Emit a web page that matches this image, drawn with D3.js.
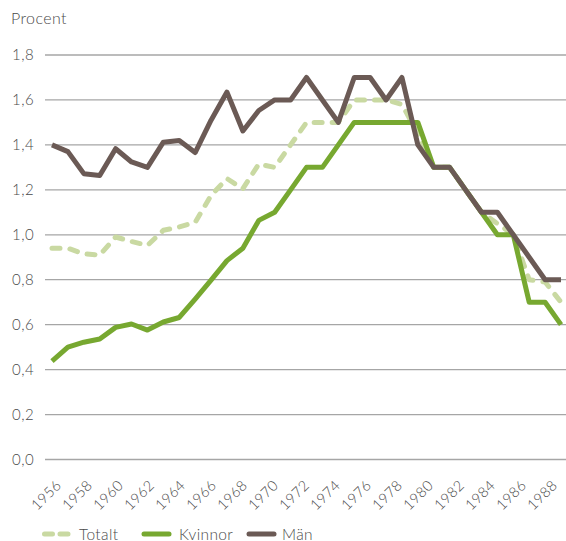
<!DOCTYPE html>
<html>
<head>
<meta charset="utf-8">
<script src="https://cdn.jsdelivr.net/npm/d3@7"></script>
<style>
  body { margin: 0; background: #fff; }
  svg text { font-family: Lato, "Open Sans", sans-serif; font-weight: 300; fill: #4a4a4a; letter-spacing: 0.4px; }
</style>
</head>
<body>
<div id="app"></div>
<script>
const years = d3.range(1956, 1989);
const labelYears = years.filter(d => d % 2 === 0);
const yTicks = [0, 0.2, 0.4, 0.6, 0.8, 1.0, 1.2, 1.4, 1.6, 1.8];

const totalt = [0.94, 0.94, 0.915, 0.91, 0.99, 0.97, 0.953, 1.02, 1.035, 1.055, 1.175, 1.25, 1.205, 1.315, 1.30, 1.40, 1.50, 1.50, 1.50, 1.60, 1.60, 1.60, 1.58, 1.45, 1.30, 1.30, 1.20, 1.10, 1.05, 1.00, 0.80, 0.79, 0.70];
const kvinnor = [0.438, 0.50, 0.522, 0.536, 0.588, 0.603, 0.576, 0.612, 0.632, 0.714, 0.798, 0.885, 0.94, 1.064, 1.10, 1.20, 1.30, 1.30, 1.40, 1.50, 1.50, 1.50, 1.50, 1.50, 1.30, 1.30, 1.20, 1.10, 1.00, 1.00, 0.70, 0.70, 0.60];
const man = [1.40, 1.37, 1.272, 1.264, 1.383, 1.324, 1.30, 1.412, 1.42, 1.366, 1.51, 1.635, 1.462, 1.553, 1.60, 1.60, 1.70, 1.60, 1.50, 1.70, 1.70, 1.60, 1.70, 1.40, 1.30, 1.30, 1.20, 1.10, 1.10, 1.00, 0.90, 0.80, 0.80];

const seriesNames = ["Totalt", "Kvinnor", "Män"];
const colors = { "Totalt": "#c9d9a2", "Kvinnor": "#77a830", "Män": "#6b5a55" };

let width = 566, height = 541;
let svg = d3.select('#app').append('svg').attr('width', width).attr('height', height);

let x = d3.scalePoint().domain(years).range([52, 561]);
let xLabel = d3.scalePoint().domain(labelYears).range([55, 551]);
let y = d3.scaleLinear().domain([0, 1.8]).range([459.5, 55]);

// grid
svg.append('g').selectAll('line').data(yTicks)
  .enter().append('line')
  .attr('x1', 45).attr('x2', 566)
  .attr('y1', d => y(d)).attr('y2', d => y(d))
  .attr('stroke', '#a6a6a6').attr('stroke-width', 1.3);

svg.append('g').selectAll('text').data(yTicks)
  .enter().append('text')
  .attr('x', 34).attr('y', d => y(d) + 5)
  .attr('text-anchor', 'end')
  .style('font-size', '15px')
  .text(d => d3.format('.1f')(d).replace('.', ','));

svg.append('text').attr('x', 11).attr('y', 24).style('font-size', '16px').text('Procent');

// x labels
svg.append('g').selectAll('text').data(labelYears)
  .enter().append('text')
  .attr('transform', d => `translate(${xLabel(d)},${479}) rotate(-45)`)
  .attr('text-anchor', 'end')
  .attr('dy', '0.7em')
  .style('font-size', '14.5px')
  .text(d => d);

// lines
const data = { "Totalt": totalt, "Kvinnor": kvinnor, "Män": man };
const line = d3.line().x((d, i) => x(years[i])).y(d => y(d));

seriesNames.forEach(name => {
  let p = svg.append('path')
    .attr('d', line(data[name]))
    .attr('fill', 'none')
    .attr('stroke', colors[name])
    .attr('stroke-width', 5)
    .attr('stroke-linejoin', 'round');
  if (name === 'Totalt') {
    p.attr('stroke-dasharray', '8,10').attr('stroke-linecap', 'round');
  }
});

// legend
const legendX = { "Totalt": 42, "Kvinnor": 142, "Män": 247 };
seriesNames.forEach(name => {
  let g = svg.append('g').attr('transform', `translate(${legendX[name]},534)`);
  if (name === 'Totalt') {
    g.append('line').attr('x1', 2.5).attr('x2', 28).attr('y1', 0).attr('y2', 0)
      .attr('stroke', colors[name]).attr('stroke-width', 5)
      .attr('stroke-linecap', 'round').attr('stroke-dasharray', '8,7.5');
  } else {
    g.append('line').attr('x1', 2).attr('x2', 27).attr('y1', 0).attr('y2', 0)
      .attr('stroke', colors[name]).attr('stroke-width', 5).attr('stroke-linecap', 'round');
  }
  g.append('text').attr('x', name === 'Män' ? 35 : 37).attr('y', 5.5)
    .style('font-size', '15.5px').text(name);
});
</script>
</body>
</html>
